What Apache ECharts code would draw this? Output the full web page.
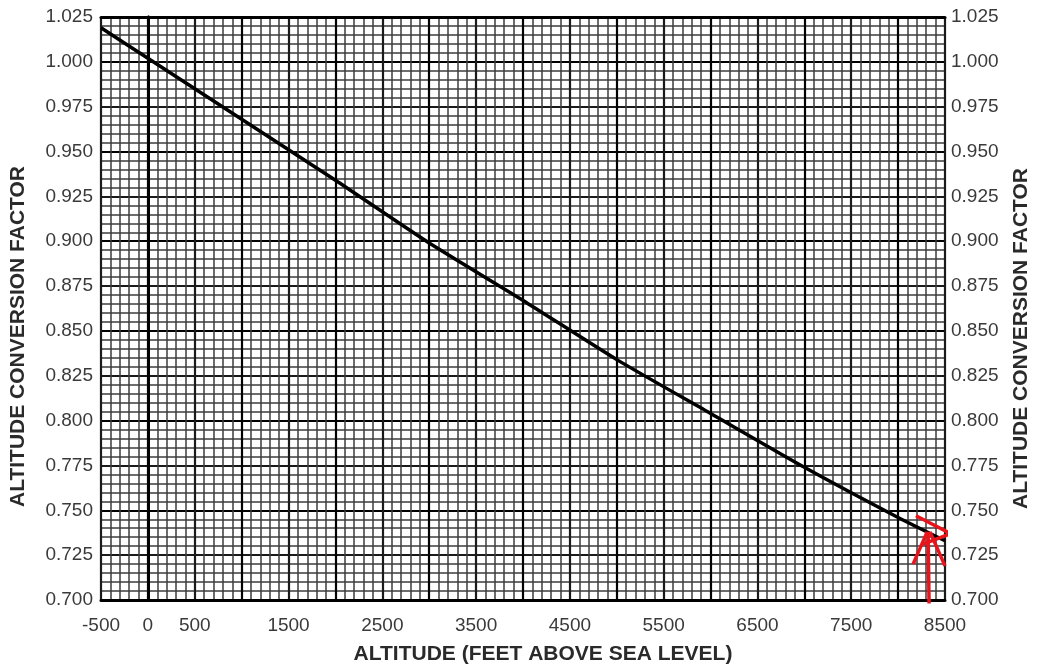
<!DOCTYPE html>
<html>
<head>
<meta charset="utf-8">
<script src="https://cdn.jsdelivr.net/npm/echarts@6/dist/echarts.min.js"></script>
<style>
html,body{margin:0;padding:0;background:#fff;}
#c{width:1039px;height:666px;}
</style>
</head>
<body>
<div id="c"></div>
<script>
// ---- data ----
const altitudes = [-500, 0, 1000, 2000, 3000, 4000, 5000, 6000, 7000, 8000, 8500];
const factors   = [1.019, 1.002, 0.968, 0.934, 0.899, 0.867, 0.834, 0.804, 0.774, 0.746, 0.733];
const xTickLabels = [-500, 0, 500, 1500, 2500, 3500, 4500, 5500, 6500, 7500, 8500];
const yTickLabels = ['0.700','0.725','0.750','0.775','0.800','0.825','0.850','0.875','0.900','0.925','0.950','0.975','1.000','1.025'];
// hand-drawn red arrow annotation (data units)
const arrowShaft = [[8330, 0.698], [8320, 0.738]];
const arrowHeadLeft = [[8160, 0.720], [8310, 0.738]];
const arrowHeadRight = [[8500, 0.719], [8340, 0.738]];
const arrowChevron = [[8190, 0.747], [8560, 0.737], [8260, 0.731]];

const xTitle = 'ALTITUDE (FEET ABOVE SEA LEVEL)';
const yTitle = 'ALTITUDE CONVERSION FACTOR';

const chart = echarts.init(document.getElementById('c'), null, {renderer: 'canvas'});
const labelStyle = {fontFamily: 'Liberation Sans, Arial, sans-serif', fontSize: 19, color: '#3a3a3a'};
const nameStyle = {fontFamily: 'Liberation Sans, Arial, sans-serif', fontSize: 21, fontWeight: 'bold', color: '#2a2a2a'};
const border = {show: true, lineStyle: {color: '#000', width: 3}};

function yAxisCfg(pos, withGrid) {
  return {
    type: 'value', position: pos, min: 0.7, max: 1.025, interval: 0.025,
    axisLine: border, axisTick: {show: false},
    axisLabel: Object.assign({margin: pos === 'left' ? 8 : 6, padding: [3, 0, 0, 0], formatter: v => {
      const s = v.toFixed(3); return yTickLabels.indexOf(s) >= 0 ? s : '';
    }}, labelStyle),
    name: yTitle, nameLocation: 'middle', nameRotate: 90, nameGap: pos === 'left' ? 72 : 66,
    nameTextStyle: Object.assign({padding: [0, pos === 'left' ? 56 : 60, 0, 0]}, nameStyle),
    splitLine: {show: withGrid, lineStyle: {color: ['#000', '#1a1a1a'], width: 2.2}},
    minorTick: {show: false, splitNumber: 5},
    minorSplitLine: {show: withGrid, lineStyle: {color: '#3c3c3c', width: 1.5}}
  };
}

const lineStyleRed = {color: '#e8141c', width: 3.5};
function redSeries(data) {
  return {type: 'line', data: data, symbol: 'none', clip: false, silent: true,
    lineStyle: lineStyleRed, itemStyle: {color: '#e8141c'}, z: 5};
}

chart.setOption({
  animation: false,
  backgroundColor: '#fff',
  grid: {left: 101, right: 94, top: 17, bottom: 66, containLabel: false, outerBoundsMode: 'none'},
  xAxis: [{
    type: 'value', position: 'bottom', min: -500, max: 8500, interval: 500,
    axisLine: border, axisTick: {show: false},
    axisLabel: Object.assign({margin: 16, showMinLabel: true, showMaxLabel: true,
      formatter: v => xTickLabels.indexOf(v) >= 0 ? String(v) : ''}, labelStyle),
    name: xTitle, nameLocation: 'middle', nameGap: 44,
    nameTextStyle: Object.assign({padding: [0, 0, 0, 40]}, nameStyle),
    splitLine: {show: true, lineStyle: {color: ['#1a1a1a', '#000'], width: 2.2}},
    minorTick: {show: false, splitNumber: 5},
    minorSplitLine: {show: true, lineStyle: {color: '#3c3c3c', width: 1.5}}
  }, {
    type: 'value', position: 'top', min: -500, max: 8500,
    axisLine: border, axisTick: {show: false}, axisLabel: {show: false}, splitLine: {show: false}
  }],
  yAxis: [yAxisCfg('left', true), yAxisCfg('right', false)],
  series: [
    {type: 'line', data: altitudes.map((a, i) => [a, factors[i]]), symbol: 'none', smooth: 0.2,
      lineStyle: {color: '#000', width: 3.5}, z: 4},
    redSeries(arrowShaft), redSeries(arrowHeadLeft), redSeries(arrowHeadRight), redSeries(arrowChevron)
  ]
});
</script>
</body>
</html>
